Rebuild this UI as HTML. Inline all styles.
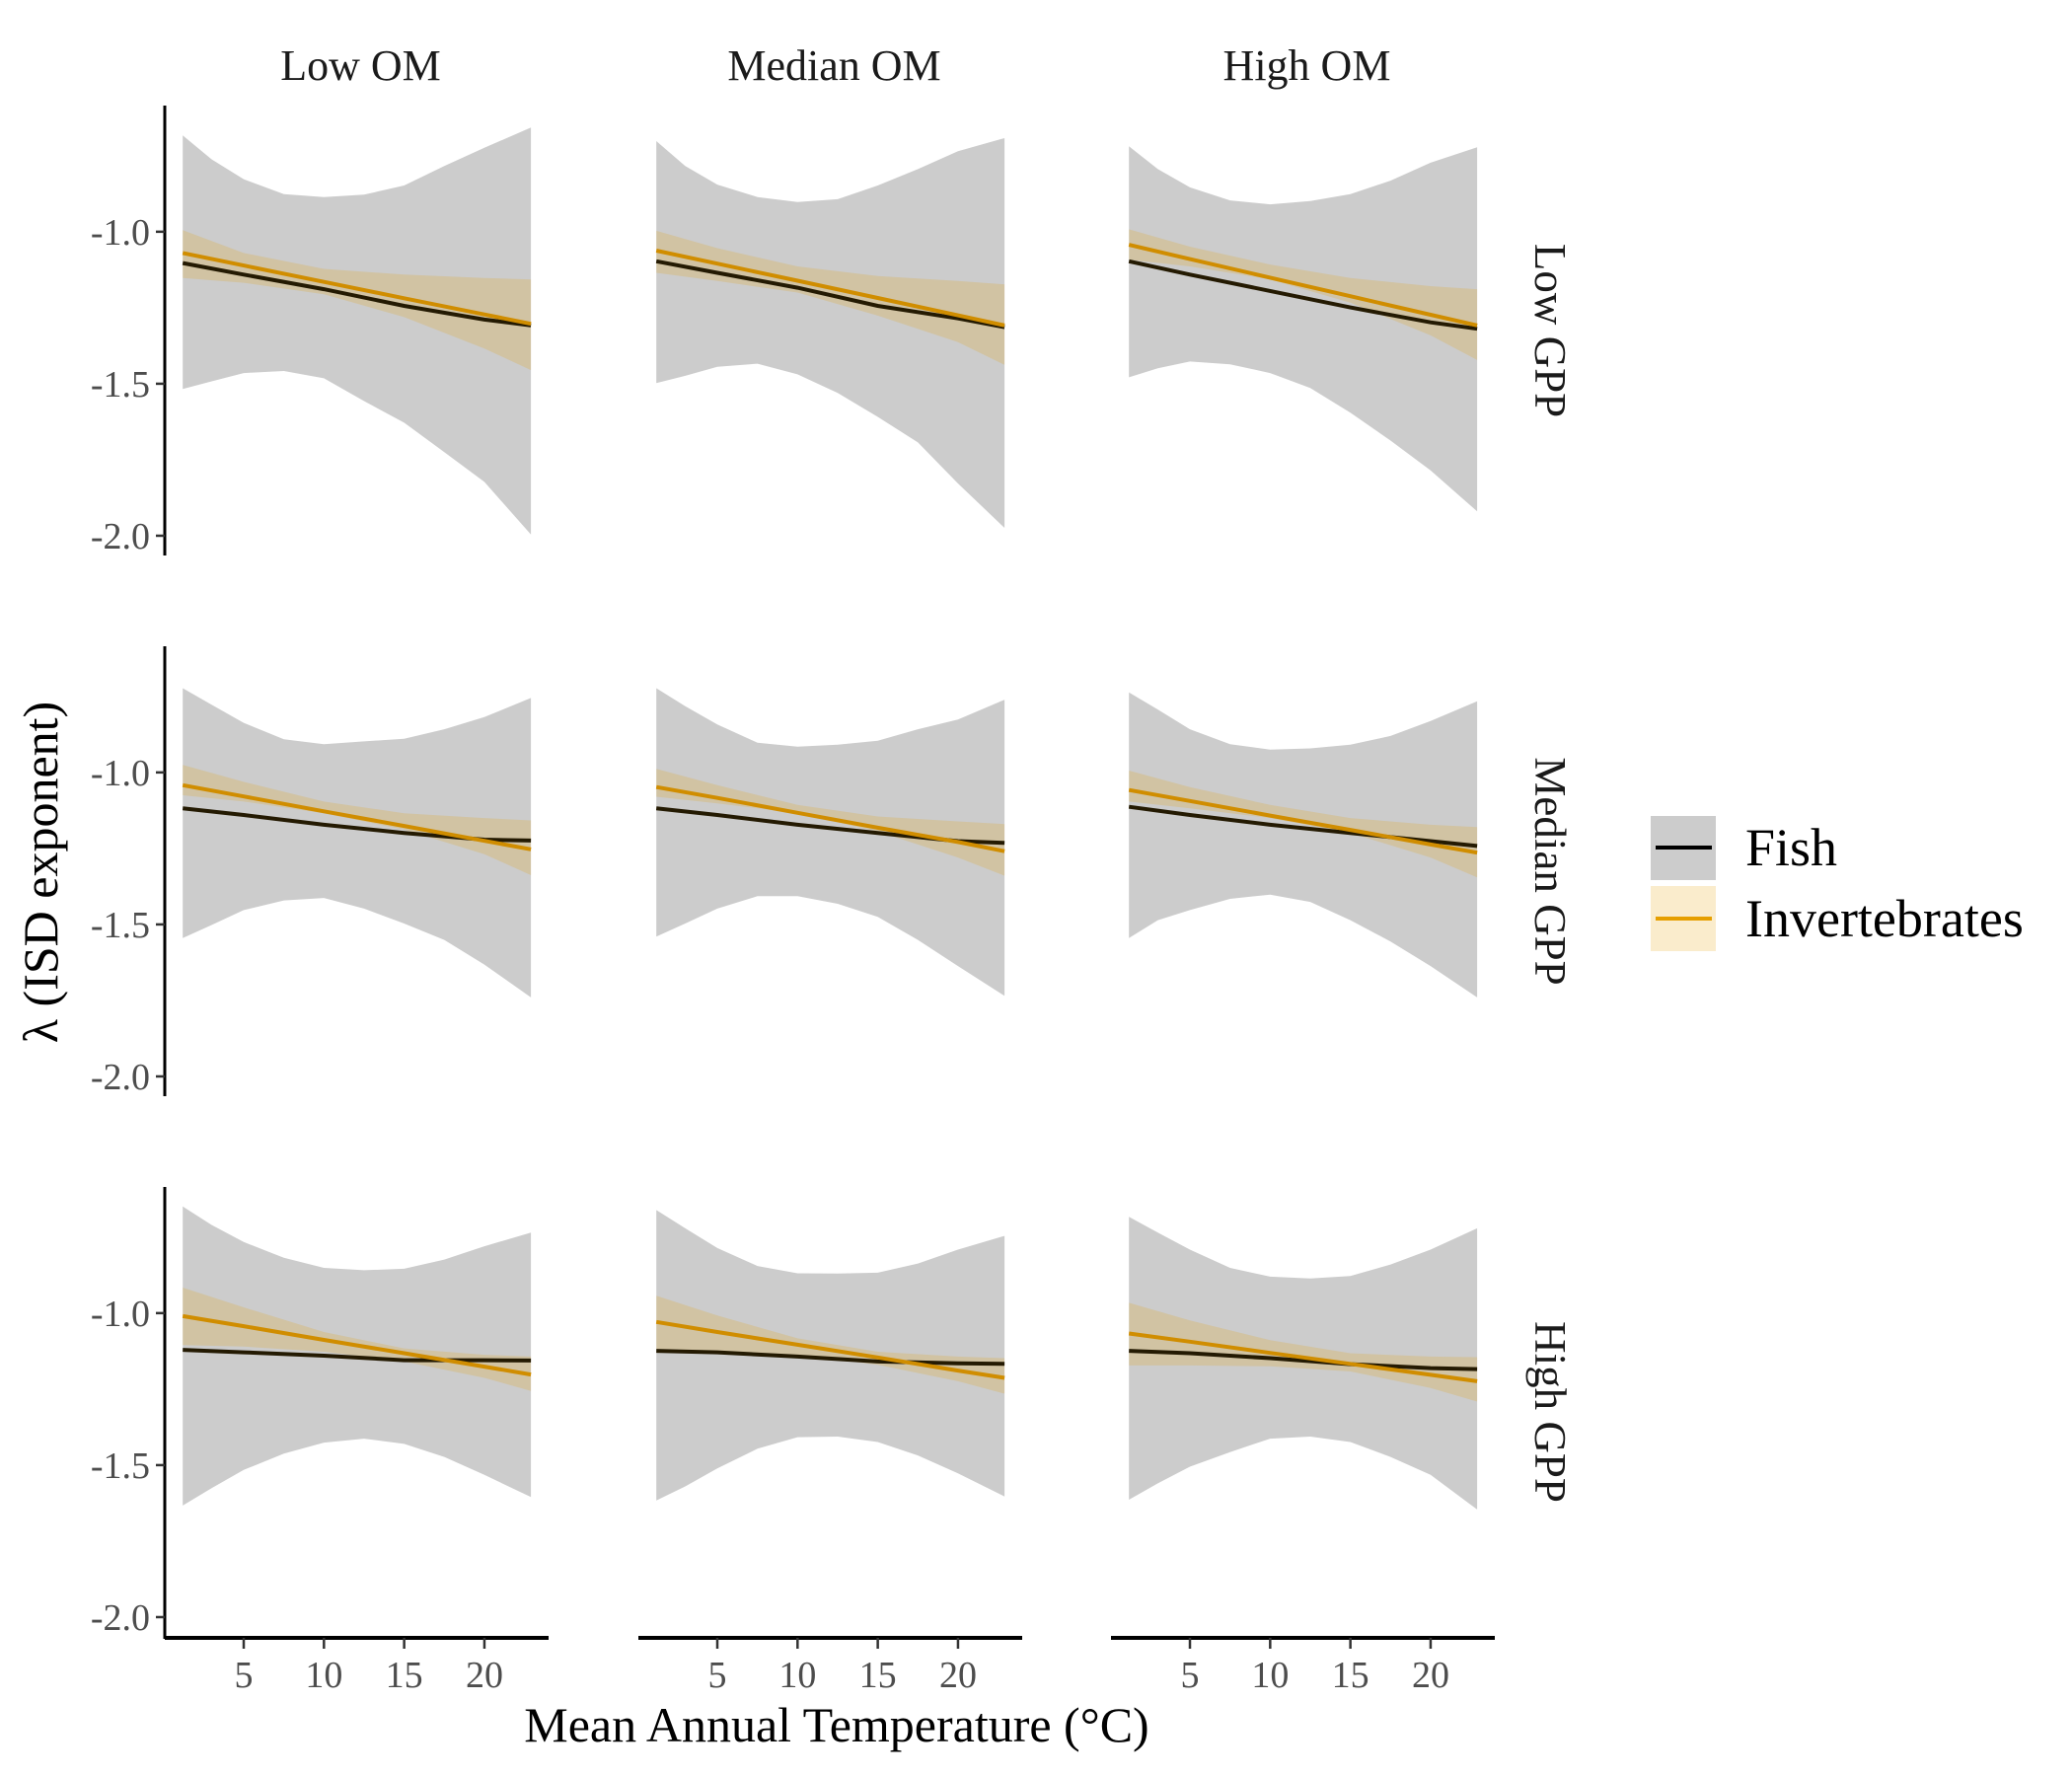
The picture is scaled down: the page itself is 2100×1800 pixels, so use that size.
<!DOCTYPE html>
<html><head><meta charset="utf-8"><style>
html,body{margin:0;padding:0;background:#fff;}
svg{display:block;font-family:"Liberation Serif","DejaVu Serif",serif;}
</style></head><body>
<svg id="chart" width="2100" height="1800" viewBox="0 0 2100 1800" xmlns="http://www.w3.org/2000/svg"></svg>
<script>
const colLabels = ["Low OM","Median OM","High OM"];
const rowLabels = ["Low GPP","Median GPP","High GPP"];
const yTicks = [-1.0,-1.5,-2.0];
const yTickLabels = ["-1.0","-1.5","-2.0"];
const xTicks = [5,10,15,20];
const xTickLabels = ["5","10","15","20"];
const gridX = [1.2,3,5,7.5,10,12.5,15,17.5,20,22.9];
const lineX = [1.2,5,10,15,20,22.9];
// fish gray band upper / lower (per panel, row-major)
const fishUpper = [
 [-0.683,-0.762,-0.827,-0.876,-0.886,-0.878,-0.848,-0.784,-0.724,-0.657],
 [-0.702,-0.784,-0.845,-0.886,-0.902,-0.893,-0.848,-0.794,-0.735,-0.692],
 [-0.719,-0.794,-0.854,-0.897,-0.910,-0.899,-0.876,-0.832,-0.773,-0.722],
 [-0.723,-0.777,-0.837,-0.891,-0.907,-0.898,-0.889,-0.858,-0.818,-0.755],
 [-0.723,-0.782,-0.842,-0.902,-0.915,-0.909,-0.896,-0.858,-0.826,-0.761],
 [-0.737,-0.793,-0.858,-0.907,-0.925,-0.921,-0.909,-0.880,-0.831,-0.766],
 [-0.649,-0.710,-0.766,-0.818,-0.851,-0.859,-0.854,-0.824,-0.780,-0.735],
 [-0.661,-0.721,-0.786,-0.845,-0.869,-0.870,-0.867,-0.837,-0.791,-0.746],
 [-0.683,-0.735,-0.791,-0.851,-0.880,-0.886,-0.878,-0.840,-0.791,-0.721]];
const fishLower = [
 [-1.517,-1.492,-1.465,-1.458,-1.482,-1.557,-1.628,-1.725,-1.823,-1.996],
 [-1.498,-1.474,-1.444,-1.434,-1.469,-1.530,-1.609,-1.693,-1.828,-1.974],
 [-1.479,-1.449,-1.427,-1.436,-1.465,-1.514,-1.595,-1.687,-1.785,-1.920],
 [-1.545,-1.502,-1.453,-1.421,-1.413,-1.448,-1.497,-1.551,-1.632,-1.740],
 [-1.540,-1.497,-1.448,-1.407,-1.407,-1.432,-1.475,-1.551,-1.637,-1.735],
 [-1.545,-1.486,-1.453,-1.416,-1.402,-1.426,-1.486,-1.556,-1.637,-1.740],
 [-1.633,-1.576,-1.516,-1.462,-1.426,-1.413,-1.430,-1.473,-1.532,-1.605],
 [-1.616,-1.570,-1.511,-1.446,-1.408,-1.406,-1.424,-1.468,-1.527,-1.603],
 [-1.614,-1.560,-1.505,-1.457,-1.413,-1.406,-1.424,-1.473,-1.532,-1.646]];
const fishLine = [
 [-1.103,-1.141,-1.189,-1.244,-1.289,-1.308],
 [-1.097,-1.135,-1.184,-1.244,-1.285,-1.314],
 [-1.097,-1.141,-1.195,-1.249,-1.298,-1.319],
 [-1.118,-1.140,-1.172,-1.199,-1.221,-1.224],
 [-1.118,-1.140,-1.172,-1.199,-1.226,-1.232],
 [-1.113,-1.140,-1.172,-1.199,-1.226,-1.242],
 [-1.121,-1.129,-1.140,-1.155,-1.155,-1.156],
 [-1.124,-1.129,-1.143,-1.159,-1.165,-1.167],
 [-1.124,-1.132,-1.148,-1.168,-1.181,-1.184]];
const invLine = [
 [-1.070,-1.111,-1.165,-1.219,-1.272,-1.303],
 [-1.062,-1.105,-1.161,-1.218,-1.275,-1.308],
 [-1.043,-1.090,-1.151,-1.212,-1.273,-1.308],
 [-1.042,-1.079,-1.128,-1.176,-1.225,-1.253],
 [-1.048,-1.084,-1.133,-1.182,-1.229,-1.259],
 [-1.058,-1.094,-1.142,-1.189,-1.237,-1.264],
 [-1.010,-1.043,-1.088,-1.132,-1.176,-1.202],
 [-1.029,-1.062,-1.104,-1.146,-1.189,-1.213],
 [-1.067,-1.094,-1.131,-1.167,-1.203,-1.224]];
const invUpper = [
 [-0.995,-1.070,-1.122,-1.141,-1.152,-1.157],
 [-0.997,-1.054,-1.114,-1.146,-1.162,-1.173],
 [-0.992,-1.049,-1.108,-1.152,-1.179,-1.189],
 [-0.975,-1.031,-1.096,-1.134,-1.150,-1.158],
 [-0.988,-1.042,-1.107,-1.145,-1.161,-1.170],
 [-0.994,-1.048,-1.107,-1.150,-1.172,-1.180],
 [-0.916,-0.981,-1.062,-1.116,-1.137,-1.143],
 [-0.943,-1.008,-1.083,-1.127,-1.143,-1.148],
 [-0.966,-1.024,-1.089,-1.132,-1.143,-1.145]];
const invLower = [
 [-1.152,-1.168,-1.206,-1.281,-1.384,-1.455],
 [-1.135,-1.162,-1.200,-1.276,-1.363,-1.438],
 [-1.092,-1.114,-1.157,-1.233,-1.341,-1.422],
 [-1.075,-1.096,-1.134,-1.188,-1.269,-1.338],
 [-1.080,-1.102,-1.134,-1.194,-1.280,-1.340],
 [-1.096,-1.118,-1.150,-1.199,-1.280,-1.345],
 [-1.105,-1.110,-1.127,-1.159,-1.213,-1.256],
 [-1.118,-1.124,-1.137,-1.170,-1.224,-1.265],
 [-1.172,-1.172,-1.175,-1.192,-1.246,-1.291]];

const NS="http://www.w3.org/2000/svg";
const svg=document.getElementById('chart');
function mk(tag,attrs,parent){const e=document.createElementNS(NS,tag);for(const k in attrs)e.setAttribute(k,attrs[k]);(parent||svg).appendChild(e);return e;}
const panelLeft=[167,647,1126], panelW=389;
const rowTop=[107,655,1203], panelH=456;
const xMin=0.08,xMax=24,yMin=-2.065,yMax=-0.585;
function sx(c,v){return panelLeft[c]+(v-xMin)/(xMax-xMin)*panelW;}
function sy(r,v){return rowTop[r]+(yMax-v)/(yMax-yMin)*panelH;}
function band(c,r,xs,up,lo){let d='';xs.forEach((x,i)=>{d+=(i?'L':'M')+sx(c,x).toFixed(1)+','+sy(r,up[i]).toFixed(1);});for(let i=xs.length-1;i>=0;i--)d+='L'+sx(c,xs[i]).toFixed(1)+','+sy(r,lo[i]).toFixed(1);return d+'Z';}
function line(c,r,xs,ys){return xs.map((x,i)=>(i?'L':'M')+sx(c,x).toFixed(1)+','+sy(r,ys[i]).toFixed(1)).join('');}

for(let r=0;r<3;r++)for(let c=0;c<3;c++){
 const k=r*3+c;
 const g=mk('g',{});
 
 
 const fb=mk('path',{d:band(c,r,gridX,fishUpper[k],fishLower[k]),fill:'#cccccc'},g);
 
 
 const ib=mk('path',{d:band(c,r,lineX,invUpper[k],invLower[k]),fill:'#E69F00','fill-opacity':0.2},g);
 
 
 const fl=mk('path',{d:line(c,r,lineX,fishLine[k]),fill:'none',stroke:'#241a02','stroke-width':4},g);
 
 
 const il=mk('path',{d:line(c,r,lineX,invLine[k]),fill:'none',stroke:'#d08d00','stroke-width':4},g);
 
 
}
// y axes
for(let r=0;r<3;r++){
 const bottom=r===2?1661:rowTop[r]+panelH;
 const ax=mk('line',{x1:167,x2:167,y1:rowTop[r],y2:bottom,stroke:'#000','stroke-width':3});
 
 
 yTicks.forEach((t,i)=>{
  const y=sy(r,t);
  const tk=mk('line',{x1:158,x2:167,y1:y,y2:y,stroke:'#333','stroke-width':2.5});
  
  
  const tl=mk('text',{x:152,y:y+13,'text-anchor':'end','font-size':38,fill:'#4d4d4d'});
  tl.textContent=yTickLabels[i];
  
  
 });
 const rl=mk('text',{transform:'translate(1556,'+(rowTop[r]+panelH/2)+') rotate(90)','text-anchor':'middle','font-size':45,fill:'#1a1a1a'});
 rl.textContent=rowLabels[r];
 
 
}
// x axes
for(let c=0;c<3;c++){
 const ax=mk('line',{x1:panelLeft[c],x2:panelLeft[c]+panelW,y1:1660,y2:1660,stroke:'#000','stroke-width':4});
 
 
 xTicks.forEach((t,i)=>{
  const x=sx(c,t);
  const tk=mk('line',{x1:x,x2:x,y1:1660,y2:1671,stroke:'#333','stroke-width':2.5});
  
  
  const tl=mk('text',{x:x,y:1710,'text-anchor':'middle','font-size':38,fill:'#4d4d4d'});
  tl.textContent=xTickLabels[i];
  
  
 });
 const cl=mk('text',{x:panelLeft[c]+panelW/2+4,y:81,'text-anchor':'middle','font-size':44,fill:'#1a1a1a'});
 cl.textContent=colLabels[c];
 
 
}
const xt=mk('text',{x:848,y:1765,'text-anchor':'middle','font-size':50,fill:'#000'});
xt.textContent='Mean Annual Temperature (°C)';


const yt=mk('text',{transform:'translate(58,884) rotate(-90)','text-anchor':'middle','font-size':50,fill:'#000'});
yt.textContent='λ (ISD exponent)';


// legend
const lg=mk('g',{});


const e1=mk('g',{},lg);


mk('rect',{x:1673,y:827,width:66,height:65,fill:'#cccccc'},e1);
mk('line',{x1:1678,x2:1735,y1:859,y2:859,stroke:'#000','stroke-width':4},e1);
const t1=mk('text',{x:1769,y:877,'font-size':54,fill:'#000'},e1);t1.textContent='Fish';
const e2=mk('g',{},lg);


mk('rect',{x:1673,y:898,width:66,height:66,fill:'#E69F00','fill-opacity':0.2},e2);
mk('line',{x1:1678,x2:1735,y1:931,y2:931,stroke:'#E69F00','stroke-width':4},e2);
const t2=mk('text',{x:1769,y:949,'font-size':54,fill:'#000'},e2);t2.textContent='Invertebrates';
</script>
</body></html>
